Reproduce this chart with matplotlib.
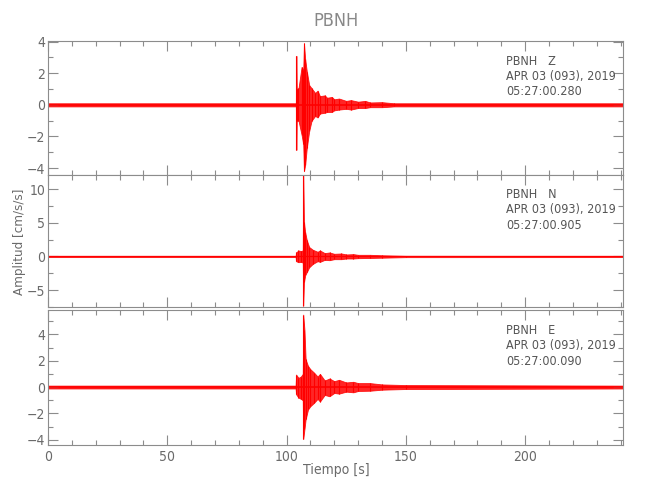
import matplotlib
matplotlib.use('Agg')
import matplotlib.pyplot as plt
import numpy as np
from matplotlib.ticker import MultipleLocator

plt.rcParams['font.family'] = ['DejaVu Sans']
plt.rcParams['font.stretch'] = 'condensed'
plt.rcParams['font.size'] = 10

station = "PBNH"
components = ["Z", "N", "E"]
dates = ["APR 03 (093), 2019"] * 3
start_times = ["05:27:00.280", "05:27:00.905", "05:27:00.090"]

# peak envelope (max / min per window)
t_z = [0, 103.9, 104.1, 104.3, 105.0, 106.3, 107.0, 107.3, 107.8, 108.5, 109.5,
       110.5, 112, 113, 114, 116, 117, 119, 120, 122, 125, 127, 130, 133, 135, 140, 145, 241]
hi_z = [0.1, 0.1, 3.1, 1.0, 1.05, 2.4, 2.2, 3.9, 2.9, 2.1, 1.25,
        1.05, 0.75, 0.9, 0.55, 0.6, 0.45, 0.5, 0.35, 0.4, 0.25, 0.3, 0.2, 0.25, 0.15, 0.17, 0.1, 0.1]
lo_z = [-0.1, -0.1, -2.85, -1.0, -1.0, -1.9, -2.5, -4.2, -3.8, -2.7, -1.65,
        -1.0, -0.7, -0.8, -0.55, -0.5, -0.45, -0.45, -0.35, -0.3, -0.25, -0.3, -0.2, -0.2, -0.15, -0.15, -0.1, -0.1]

t_n = [0, 103.8, 104.0, 105.0, 106.0, 106.8, 107.0, 107.3, 107.8, 108.5, 109.5,
       111, 113, 114, 116, 118, 120, 123, 125, 128, 130, 135, 140, 150, 241]
hi_n = [0.09, 0.09, 0.6, 0.9, 0.8, 0.9, 12.5, 5.1, 3.6, 2.4, 1.4,
        1.0, 0.7, 0.9, 0.5, 0.6, 0.4, 0.45, 0.3, 0.35, 0.25, 0.25, 0.18, 0.1, 0.09]
lo_n = [-0.09, -0.09, -0.7, -0.85, -0.8, -0.9, -7.3, -3.8, -2.8, -2.3, -1.6,
        -1.1, -0.7, -0.8, -0.5, -0.55, -0.4, -0.4, -0.3, -0.3, -0.25, -0.22, -0.18, -0.1, -0.09]

t_e = [0, 103.8, 104.0, 105.0, 106.0, 106.8, 107.0, 107.5, 108.0, 109.0, 110.0,
       111.5, 113, 114, 116, 118, 120, 122, 125, 128, 130, 135, 140, 150, 241]
hi_e = [0.11, 0.11, 0.95, 0.7, 0.8, 1.0, 5.5, 4.35, 2.1, 1.6, 1.35,
        1.1, 0.8, 1.0, 0.5, 0.65, 0.45, 0.55, 0.35, 0.4, 0.3, 0.3, 0.2, 0.15, 0.11]
lo_e = [-0.11, -0.11, -0.55, -0.8, -0.9, -1.0, -3.95, -3.2, -2.45, -1.7, -1.45,
        -1.2, -0.9, -1.1, -0.6, -0.7, -0.45, -0.5, -0.35, -0.4, -0.3, -0.28, -0.2, -0.15, -0.11]

traces = [(t_z, hi_z, lo_z), (t_n, hi_n, lo_n), (t_e, hi_e, lo_e)]
ylims = [(-4.44, 4.04), (-7.5, 12.1), (-4.4, 5.85)]
ymajor = [2, 5, 2]
yminor = [1, 2.5, 1]
base_lw = [1.2, 0.9, 1.2]

gray = '#8c8c8c'
txt = '#6a6a6a'

fig = plt.figure(figsize=(6.5, 5), dpi=100)
boxes = [(0.0738, 0.650, 0.8846, 0.268),
         (0.0738, 0.386, 0.8846, 0.264),
         (0.0738, 0.110, 0.8846, 0.270)]

for k in range(3):
    ax = fig.add_axes(boxes[k])
    t, hi, lo = traces[k]
    ax.fill_between(t, lo, hi, color='red', alpha=0.85, lw=0.6)
    ax.vlines(t, lo, hi, color='red', lw=0.8)
    ax.plot(t, np.zeros(len(t)), color='red', lw=base_lw[k])
    ax.set_xlim(0, 241)
    ax.set_ylim(ylims[k])
    ax.xaxis.set_major_locator(MultipleLocator(50))
    ax.xaxis.set_minor_locator(MultipleLocator(10))
    ax.yaxis.set_major_locator(MultipleLocator(ymajor[k]))
    ax.yaxis.set_minor_locator(MultipleLocator(yminor[k]))
    ax.tick_params(which='both', direction='in', top=True, right=True,
                   color=gray, labelcolor=txt, width=0.8, labelsize=10)
    ax.tick_params(axis='y', pad=2)
    ax.tick_params(which='major', length=7)
    ax.tick_params(which='minor', length=3.5)
    for s in ax.spines.values():
        s.set_color(gray)
        s.set_linewidth(0.8)
    if k < 2:
        ax.tick_params(labelbottom=False)
    ax.text(0.797, 0.85, station + "   " + components[k], transform=ax.transAxes,
            color='#555555', fontsize=9, va='center')
    ax.text(0.797, 0.735, dates[k], transform=ax.transAxes,
            color='#555555', fontsize=9, va='center')
    ax.text(0.797, 0.62, start_times[k], transform=ax.transAxes,
            color='#555555', fontsize=9, va='center')

fig.text(0.517, 0.958, station, ha='center', va='center', color='#888888', fontsize=13)
fig.text(0.517, 0.06, 'Tiempo [s]', ha='center', va='center', color=txt, fontsize=10)
fig.text(0.030, 0.516, 'Amplitud [cm/s/s]', ha='center', va='center', rotation=90,
         color=txt, fontsize=9.5)

fig.savefig('out.png', dpi=100)
